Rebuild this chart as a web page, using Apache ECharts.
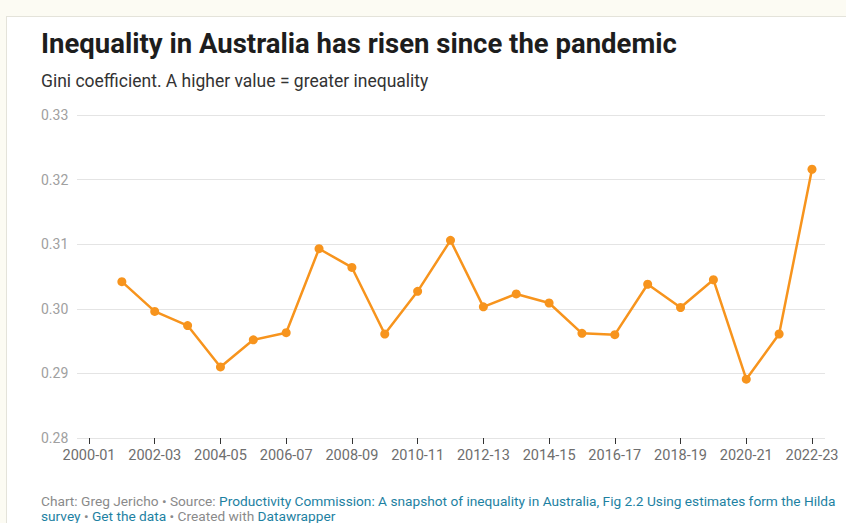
<!DOCTYPE html>
<html>
<head>
<meta charset="utf-8">
<title>Inequality in Australia has risen since the pandemic</title>
<script src="https://cdn.jsdelivr.net/npm/echarts@6/dist/echarts.min.js"></script>
<style>
  html, body { margin: 0; padding: 0; background: #fcfbf3; }
  body { width: 846px; height: 523px; position: relative; overflow: hidden; }
  #card { position: absolute; left: 6px; top: 16px; width: 860px; height: 530px;
          background: #ffffff; border: 1px solid #e4e3da; box-sizing: border-box; }
  #chart { position: absolute; left: 0; top: 0; width: 846px; height: 523px; }
</style>
</head>
<body>
<div id="card"></div>
<div id="chart"></div>
<script>
// Financial years on the x axis (every second one is labelled)
const years = [
  '2000-01','2001-02','2002-03','2003-04','2004-05','2005-06','2006-07','2007-08',
  '2008-09','2009-10','2010-11','2011-12','2012-13','2013-14','2014-15','2015-16',
  '2016-17','2017-18','2018-19','2019-20','2020-21','2021-22','2022-23'
];
// Gini coefficient per year (no estimate for 2000-01)
const gini = [
  null, 0.3042, 0.2996, 0.2974, 0.2910, 0.2952, 0.2963, 0.3093,
  0.3064, 0.2961, 0.3027, 0.3106, 0.3003, 0.3023, 0.3009, 0.2962,
  0.2960, 0.3038, 0.3002, 0.3045, 0.2891, 0.2961, 0.3216
];
const yTicks = [0.28, 0.29, 0.30, 0.31, 0.32, 0.33];

const titleText = 'Inequality in Australia has risen since the pandemic';
const subtitleText = 'Gini coefficient. A higher value = greater inequality';

const yMin = yTicks[0], yMax = yTicks[yTicks.length - 1], yStep = 0.01;
const plotTop = 115, plotBottom = 85;
const ORANGE = '#f7941d';
const LINK = '#1d81a2';
const MUTED = '#8a8a8a';

const chart = echarts.init(document.getElementById('chart'), null, { renderer: 'svg' });

chart.setOption({
  animation: false,
  backgroundColor: 'transparent',
  textStyle: { fontFamily: 'Roboto' },
  title: [
    {
      text: titleText, left: 41, top: 29, padding: 0,
      textStyle: { fontFamily: 'Roboto', fontWeight: 'bold', fontSize: 27.5, color: '#1d1d1d' }
    },
    {
      text: subtitleText, left: 41, top: 72, padding: 0,
      textStyle: { fontFamily: 'Roboto', fontWeight: 'normal', fontSize: 17.5, color: '#333333' }
    },
    {
      left: 41, top: 493, padding: 0,
      text: '{g|Chart: Greg Jericho • Source: }{b|Productivity Commission: A snapshot of inequality in Australia, Fig 2.2 Using estimates form the Hilda}\n' +
            '{b|survey}{g| • }{b|Get the data}{g| • Created with }{b|Datawrapper}',
      textStyle: {
        fontSize: 13.7, lineHeight: 15, fontWeight: 'normal',
        rich: {
          g: { fontFamily: 'Roboto', fontWeight: 'normal', fontSize: 13.7, lineHeight: 15, color: MUTED },
          b: { fontFamily: 'Roboto', fontWeight: 'normal', fontSize: 13.7, lineHeight: 15, color: LINK }
        }
      }
    }
  ],
  grid: [
    // wide grid carrying the horizontal gridlines and y labels
    { left: 77, right: 21, top: plotTop, bottom: plotBottom },
    // data grid, inset so the first and last years sit inside the gridlines
    { left: 89, right: 34, top: plotTop, bottom: plotBottom }
  ],
  xAxis: [
    { gridIndex: 0, type: 'value', min: 0, max: 1, show: false },
    {
      gridIndex: 1, type: 'category', data: years, boundaryGap: false,
      axisLine: { show: false },
      axisTick: { show: true, interval: 1, length: 6, lineStyle: { color: '#333333', width: 1 } },
      axisLabel: { interval: 1, color: '#6e6e6e', fontSize: 14.5, margin: 10, fontFamily: 'Roboto' },
      splitLine: { show: false }
    }
  ],
  yAxis: [
    {
      gridIndex: 0, type: 'value', min: yMin, max: yMax, interval: yStep,
      axisLine: { show: false }, axisTick: { show: false },
      axisLabel: {
        inside: false, align: 'left', margin: 36, color: '#a0a0a0', fontSize: 14,
        fontFamily: 'Roboto', formatter: v => v.toFixed(2)
      },
      splitLine: { lineStyle: { color: '#e4e4e4', width: 1 } }
    },
    {
      gridIndex: 1, type: 'value', min: yMin, max: yMax, interval: yStep,
      show: false, splitLine: { show: false }
    }
  ],
  series: [
    {
      type: 'line', xAxisIndex: 1, yAxisIndex: 1, data: gini,
      symbol: 'circle', symbolSize: 9, connectNulls: false,
      lineStyle: { color: ORANGE, width: 2.5 },
      itemStyle: { color: ORANGE },
      silent: true
    }
  ]
});
</script>
</body>
</html>
